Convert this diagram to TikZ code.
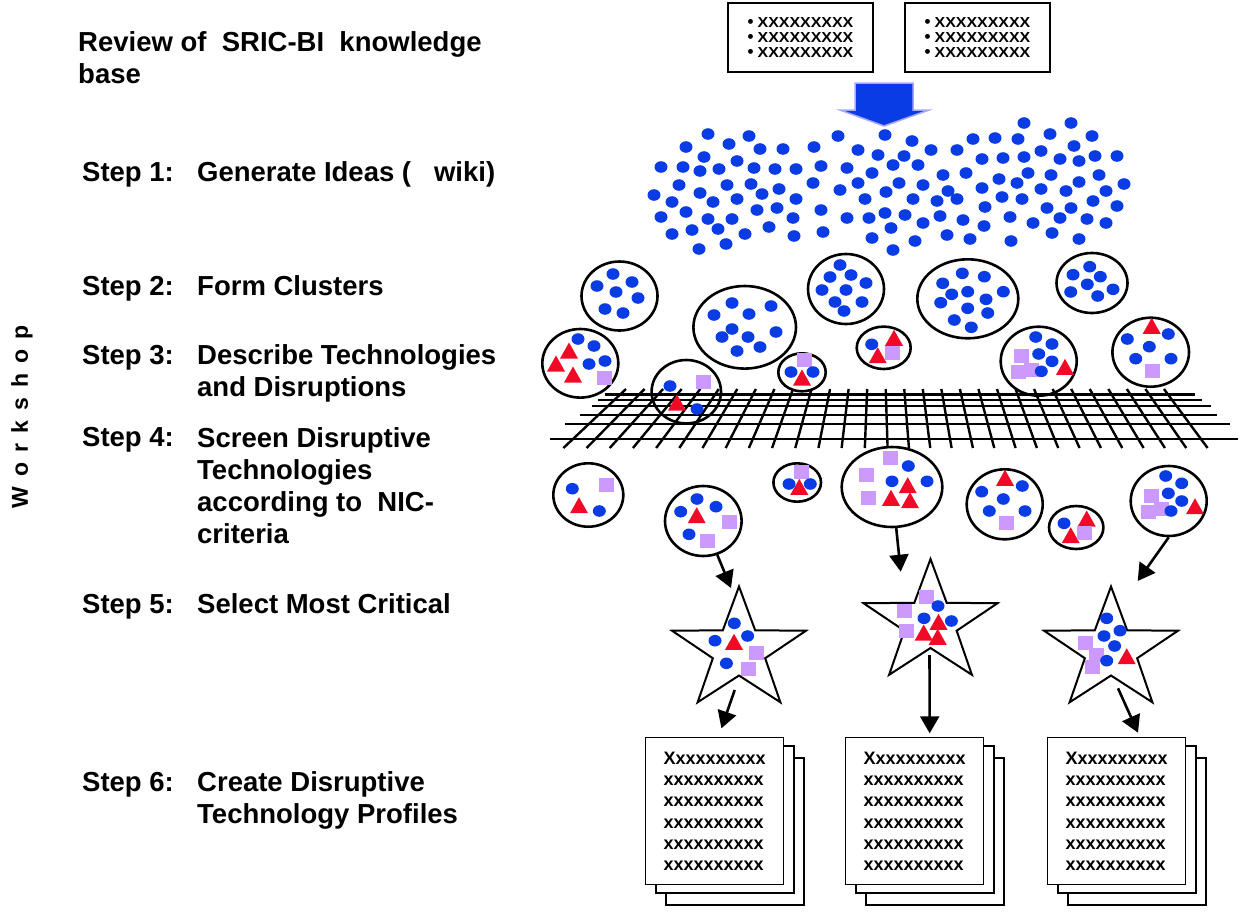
\documentclass[tikz,border=0pt]{standalone}
\usepackage{fontspec}
\setmainfont{Liberation Sans}
\usepackage{graphicx}
\usetikzlibrary{arrows.meta,shapes.geometric}
\definecolor{ideablue}{HTML}{0A3CE6}
\definecolor{techred}{HTML}{F00A28}
\definecolor{disrlilac}{HTML}{CC99FF}
\definecolor{arrowrim}{HTML}{A6A6FF}
\newcommand{\wsp}{\hspace{10pt}}
\newcommand{\memoline}{{\fontsize{17}{14.7}\selectfont\textbullet}\ \scalebox{1.1}[1]{XXXXXXXXX}}
\tikzset{
  steplbl/.style={font=\bfseries\fontsize{27.5}{32}\selectfont, anchor=base west, inner sep=0pt, align=left},
  cluster/.style={ellipse, draw, line width=2.6pt, inner sep=0pt},
  sieve/.style={line width=2.4pt},
  flow/.style={line width=2.6pt, -{Triangle[length=17pt,width=19pt]}},
  sheet/.style={draw, line width=1.4pt, fill=white},
  page/.style={sheet, anchor=north west, minimum width=138pt, minimum height=147pt, align=left,
    font=\bfseries\fontsize{18}{21.3}\selectfont},
  memo/.style={draw, line width=1.4pt, minimum width=145pt, minimum height=69pt, align=left,
    font=\bfseries\fontsize{14.5}{14.7}\selectfont},
  starline/.style={draw, line width=2pt},
  idea/.pic={\fill[ideablue] (0,0) ellipse [x radius=6.5, y radius=5.8];},
  tech/.pic={\fill[techred] (-9,6.5) -- (9,6.5) -- (0,-9.5) -- cycle;},
  disr/.pic={\fill[disrlilac] (-7.5,-7) rectangle (7.5,7);},
  bigstar/.pic={\draw[starline] (0,-64) \foreach \k in {1,...,9}{
      -- ({1.1*(mod(\k,2)==1 ? 25 : 64)*cos(-90+36*\k)}, {(mod(\k,2)==1 ? 25 : 64)*sin(-90+36*\k)}) } -- cycle;}
}

\begin{document}
\begin{tikzpicture}[x=1pt, y=-1pt]
\useasboundingbox (0,0) rectangle (1241,919);

\node[font=\bfseries\fontsize{23}{26}\selectfont, rotate=90] (wshop) at (22,417) {W\wsp o\wsp r\wsp k\wsp s\wsp h\wsp o\wsp p};

\node[steplbl] (rev) at (78,83) {Review of\ \ SRIC-BI\ \ knowledge\\base};
\node[steplbl] (s1) at (82,181.5) {Step 1:};
\node[steplbl] (t1) at (197,181.5) {Generate Ideas (\ \ \ wiki)};
\node[steplbl] (s2) at (82,295.5) {Step 2:};
\node[steplbl] (t2) at (197,295.5) {Form Clusters};
\node[steplbl] (s3) at (82,364.5) {Step 3:};
\node[steplbl] (t3) at (197,396.5) {Describe Technologies\\and Disruptions};
\node[steplbl] (s4) at (82,446.5) {Step 4:};
\node[steplbl] (t4) at (197,543) {Screen Disruptive\\Technologies\\according to\ \ NIC-\\criteria};
\node[steplbl] (s5) at (82,613.5) {Step 5:};
\node[steplbl] (t5) at (197,613.5) {Select Most Critical};
\node[steplbl] (s6) at (82,791.5) {Step 6:};
\node[steplbl] (t6) at (197,823.5) {Create Disruptive\\Technology Profiles};

\node[memo] (tb1) at (800.5,37.5) {\memoline\\\memoline\\\memoline};
\node[memo] (tb2) at (977.5,37.5) {\memoline\\\memoline\\\memoline};

\filldraw[fill=ideablue, draw=arrowrim, line width=1.5pt]
  (855,83) -- (913,83) -- (913,110) -- (929,110) -- (884,126) -- (840,110) -- (855,110) -- cycle;

\foreach \x/\y in {708/134,749/136,686/147,729/144,760/149,783/149,814/147,838/136,885/135,858/150,
  878/155,704/157,737/161,661/167,683/167,700/171,719/169,754/168,775/169,796/169,821/166,847/168,
  872/173,679/185,727/185,751/184,813/183,858/183,840/190,654/195,672/202,700/193,713/202,737/199,
  762/194,779/189,796/199,865/199,886/192,661/217,686/212,708/219,732/219,757/210,777/208,793/218,
  821/210,847/218,869/218,885/213,672/234,692/230,718/229,745/234,769/227,794/236,823/232,872/238,
  699/249,726/244,1024/123,1071/123,912/141,973/139,995/138,1018/139,1050/134,1092/136,931/150,
  957/150,1074/146,904/156,982/159,1003/158,1024/157,1041/151,1060/159,1079/161,1095/156,1117/156,
  893/165,918/165,943/175,966/173,999/179,1028/173,1051/175,1099/175,899/183,923/185,948/191,982/188,
  1017/183,1041/189,1066/191,1079/182,1106/191,1124/184,913/199,937/201,957/199,1002/197,1022/199,
  985/207,1047/208,1071/208,1093/201,1117/206,905/215,923/223,940/216,963/220,984/226,1010/217,
  1033/223,1060/218,1087/219,1106/223,891/228,915/241,947/235,970/239,1011/241,1052/233,1079/239,893/250}
  \pic at (\x,\y) {idea};

\foreach \yy/\xa/\xb in {394.5/605/1195,400/598/1202,405.7/592/1211,414.7/580/1217,424/565/1230,438.7/550/1238}
  \draw[sieve] (\xa,\yy) -- (\xb,\yy);
\foreach \i in {0,...,29}{
  \pgfmathsetmacro\xt{626+18.55*\i}
  \pgfmathsetmacro\xd{\xt<881.7 ? 883+(\xt-881.7)*1.25 : 883+(\xt-881.7)*1.15}
  \draw[sieve] (\xt,389) -- (\xd,448);
}

\node[cluster, minimum width=76pt, minimum height=69pt] (clA) at (619.5,296) {};
\node[cluster, minimum width=76pt, minimum height=68.6pt] (clB) at (580.3,363.3) {};
\node[cluster, minimum width=102.6pt, minimum height=82.6pt] (clC) at (744.7,327.3) {};
\node[cluster, minimum width=76pt, minimum height=70pt] (clD) at (846,289) {};
\node[cluster, minimum width=69.4pt, minimum height=63.4pt] (clE) at (686.3,391.7) {};
\node[cluster, minimum width=47.4pt, minimum height=38pt] (clF) at (802,372.3) {};
\node[cluster, minimum width=54pt, minimum height=42.4pt] (clG) at (883.7,347.8) {};
\node[cluster, minimum width=101pt, minimum height=79pt] (clH) at (967.8,298.8) {};
\node[cluster, minimum width=71pt, minimum height=60pt] (clI) at (1092,283) {};
\node[cluster, minimum width=76pt, minimum height=69pt] (clJ) at (1038.7,361.2) {};
\node[cluster, minimum width=76.6pt, minimum height=69pt] (clK) at (1150.7,352.2) {};
\node[cluster, minimum width=70pt, minimum height=63.4pt] (clL) at (588.3,495) {};
\node[cluster, minimum width=76.6pt, minimum height=70pt] (clM) at (703.3,521) {};
\node[cluster, minimum width=47.6pt, minimum height=38.4pt] (clN) at (797.2,482.5) {};
\node[cluster, minimum width=100.6pt, minimum height=80pt] (clO) at (892,487) {};
\node[cluster, minimum width=76pt, minimum height=70pt] (clP) at (1004.7,504.3) {};
\node[cluster, minimum width=54.4pt, minimum height=43pt] (clQ) at (1076.2,527.5) {};
\node[cluster, minimum width=76pt, minimum height=70pt] (clR) at (1168.7,501) {};

\pic (st1) at (739,650.5) {bigstar};
\pic (st2) at (930.5,623) {bigstar};
\pic (st3) at (1111,650.5) {bigstar};

\foreach \x/\y in {569/352,556/365,573/376,677/404,802/379,877.7/356.7,894/339.3,1065/368.3,1151.7/327.3,
  579/506.7,696.7/516.7,799.3/488.3,907.7/486.7,891/499.3,910/501.7,1005/479.3,1086.7/520,1070.7/536.7,
  1195/507.7,734/643.3,938.5/623.3,923.7/634,937.7/638.3,1126.7/657.7}
  \pic at (\x,\y) {tech};
\foreach \x/\y in {604/378,703/382,804/360,892.3/352.7,1021.3/356,1018/371.7,1031.7/370,1152.7/370.7,
  606.3/484.7,729.3/521.7,707.3/540.7,801.7/471.7,866.7/475,868.3/497.7,890/458.3,1006.7/523.3,
  1084.3/532.7,1151.7/495.7,1148.3/511.7,1161/509.3,756.3/652.7,748.3/669.3,926.4/596.7,904.8/610.7,
  906.3/630.7,1085/643.3,1096.4/655,1092/666.7}
  \pic at (\x,\y) {disr};
\foreach \x/\y in {597/286,613/274,632/282,616/292,638/298,605/309,623/313,
  578/339,594/346,589/364,605/361,
  714/315,732/303,749/314,771/306,732/329,722/337,748/337,776/332,737/351,760/347,
  840/265,830/277,851/275,866/283,822/290,846/290,835/302,862/302,844/311,
  670/386,697/409,791/372,813/372,871.7/344.3,
  942.7/283.3,962.3/273.3,984.3/276.7,1003.3/291.7,951.7/294.3,967.7/291.7,986/299.3,940.7/302.7,
  967.7/308.3,987.7/313,954.3/320,971.3/327.3,
  1089.7/266.7,1073/274.7,1100.3/276.7,1087.3/284.3,1070.7/292,1097.7/296,1113/289.3,
  1035.7/337,1052/344,1038.7/354,1052/361.3,1041.3/371.3,
  1127.3/339,1168.3/334,1149.3/346.7,1135.7/358.7,1171/358.7,
  572.3/488.7,599.3/511,697/499,680.7/511.7,716/506.7,689/534.3,789/484,810.3/484,
  908.3/466,892/481.3,927/481.3,981.7/491.7,1022.3/486,1003.3/499,989.3/511,1025/511,1064/523.3,
  1165.7/476,1181.7/483.3,1168.3/493.3,1181.7/501,1171/511,
  734.3/623.3,715/640.7,747.6/636,726.4/663.3,938/606,924/618.3,951.4/621,
  1106.7/618.3,1120/630.7,1104/636,1114.6/646,1106.7/660.7}
  \pic at (\x,\y) {idea};

\coordinate (in1) at (731,588);
\coordinate (in2) at (900.7,571.7);
\coordinate (in3) at (1137.7,581);
\draw[flow] (clM) -- (in1);
\draw[flow] (clO) -- (in2);
\draw[flow] (clR.south) -- (in3);

\foreach \px in {645,845,1047}{
  \draw[sheet] (\px+21,758) rectangle ++(138,147);
  \draw[sheet] (\px+11,746) rectangle ++(138,147);
}
\node[page] (pg1) at (645,737) {Xxxxxxxxxx\\xxxxxxxxxx\\xxxxxxxxxx\\xxxxxxxxxx\\xxxxxxxxxx\\xxxxxxxxxx};
\node[page] (pg2) at (845,737) {Xxxxxxxxxx\\xxxxxxxxxx\\xxxxxxxxxx\\xxxxxxxxxx\\xxxxxxxxxx\\xxxxxxxxxx};
\node[page] (pg3) at (1047,737) {Xxxxxxxxxx\\xxxxxxxxxx\\xxxxxxxxxx\\xxxxxxxxxx\\xxxxxxxxxx\\xxxxxxxxxx};

\coordinate (s1out) at (734.7,690);
\coordinate (s2out) at (929.5,655);
\coordinate (s3out) at (1118,688.3);
\draw[flow] (s1out) -- ([xshift=6.7pt, yshift=8.7pt]pg1.north);
\draw[flow] (s2out) -- ([xshift=15pt, yshift=3.7pt]pg2.north);
\draw[flow] (s3out) -- ([xshift=21.3pt, yshift=4.3pt]pg3.north);
\end{tikzpicture}
\end{document}
